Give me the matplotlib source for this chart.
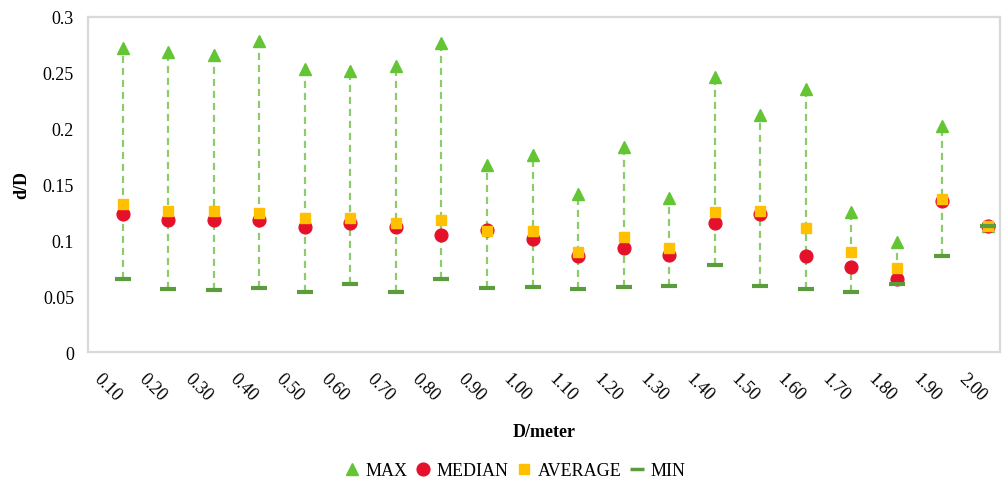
import numpy as np
import matplotlib
matplotlib.use("Agg")
import matplotlib.pyplot as plt
from matplotlib.lines import Line2D

plt.rcParams['font.family'] = ['Liberation Serif', 'DejaVu Serif']

categories = ["0.10", "0.20", "0.30", "0.40", "0.50", "0.60", "0.70", "0.80", "0.90", "1.00",
              "1.10", "1.20", "1.30", "1.40", "1.50", "1.60", "1.70", "1.80", "1.90", "2.00"]
max_vals = [0.272, 0.268, 0.266, 0.278, 0.253, 0.251, 0.256, 0.276, 0.167, 0.176,
            0.141, 0.183, 0.138, 0.246, 0.212, 0.235, 0.125, 0.098, 0.202, 0.113]
median_vals = [0.123, 0.118, 0.118, 0.118, 0.112, 0.115, 0.112, 0.105, 0.109, 0.101,
               0.086, 0.093, 0.087, 0.115, 0.123, 0.086, 0.076, 0.065, 0.135, 0.113]
average_vals = [0.132, 0.126, 0.126, 0.124, 0.120, 0.120, 0.115, 0.118, 0.108, 0.108,
                0.089, 0.103, 0.093, 0.125, 0.126, 0.111, 0.089, 0.075, 0.137, 0.113]
min_vals = [0.065, 0.056, 0.055, 0.057, 0.054, 0.061, 0.054, 0.065, 0.057, 0.058,
            0.056, 0.058, 0.059, 0.078, 0.059, 0.056, 0.054, 0.061, 0.086, 0.113]
y_ticks = [0, 0.05, 0.1, 0.15, 0.2, 0.25, 0.3]
y_tick_labels = ["0", "0.05", "0.1", "0.15", "0.2", "0.25", "0.3"]

c_max = '#63c534'
c_med = '#e5112b'
c_avg = '#ffc000'
c_min = '#5b9c3c'
c_rng = '#8ccc6c'

fig = plt.figure(figsize=(10.02, 4.81), dpi=100)
ax = fig.add_axes([0.0878, 0.2661, 0.9102, 0.6975])

x = np.arange(len(categories))

ax.vlines(x, min_vals, max_vals, colors=c_rng, linestyles=(0, (3.2, 2.2)), linewidth=1.6, zorder=1)
ax.plot(x, max_vals, linestyle='none', marker='^', markersize=9, color=c_max, zorder=2)
ax.plot(x, median_vals, linestyle='none', marker='o', markersize=9.2, color=c_med, zorder=3)
ax.plot(x, average_vals, linestyle='none', marker='s', markersize=7.2, color=c_avg, zorder=4)
ax.plot(x, min_vals, linestyle='none', marker='_', markersize=11.5, markeredgewidth=3,
        color=c_min, zorder=5)

ax.set_xlim(-0.762, 19.263)
ax.set_ylim(0, 0.3)

ax.set_yticks(y_ticks)
ax.set_yticklabels(y_tick_labels, fontsize=13)
ax.tick_params(axis='y', length=0, pad=10)

# category labels sit slightly left of each marker column, tilted downward
ax.set_xticks(x - 0.34)
ax.set_xticklabels(categories, fontsize=13, rotation=-45, rotation_mode='anchor',
                   ha='center', va='center')
ax.tick_params(axis='x', length=0, pad=25)

for s in ax.spines.values():
    s.set_color('#d9d9d9')
    s.set_linewidth(1.6)

ax.set_xlabel('D/meter', fontsize=13, fontweight='bold', va='center')
ax.xaxis.set_label_coords(0.5, -0.2355)
ax.set_ylabel('d/D', fontsize=13, fontweight='bold', va='center', ha='center')
ax.yaxis.set_label_coords(-0.0727, 0.5)

handles = [
    Line2D([], [], linestyle='none', marker='^', markersize=9, color=c_max),
    Line2D([], [], linestyle='none', marker='o', markersize=9.2, color=c_med),
    Line2D([], [], linestyle='none', marker='s', markersize=7.2, color=c_avg),
    Line2D([], [], linestyle='none', marker='_', markersize=10, markeredgewidth=2.5, color=c_min),
]
fig.legend(handles, ['MAX', 'MEDIAN', 'AVERAGE', 'MIN'], loc='center',
           bbox_to_anchor=(0.514, 0.02), ncol=4, frameon=False, fontsize=13,
           handlelength=0.8, handletextpad=0.35, columnspacing=0.45, borderpad=0)

fig.savefig('out.png', dpi=100)
